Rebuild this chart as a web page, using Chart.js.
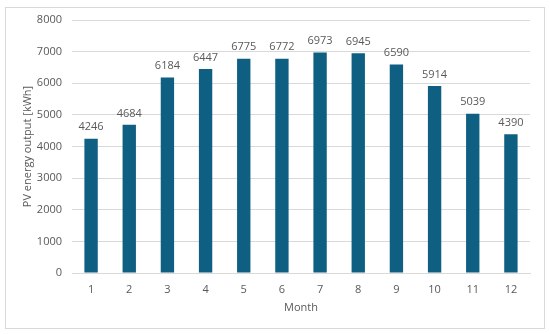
<!DOCTYPE html>
<html>
<head>
<meta charset="utf-8">
<script src="https://cdn.jsdelivr.net/npm/chart.js@4"></script>
<style>
body{margin:0;background:#fff}
#wrap{position:relative;width:550px;height:334px}
#frame{position:absolute;left:5px;top:7px;width:538px;height:320px;border:1px solid #d9d9d9}
canvas{position:absolute;left:0;top:0}
</style>
</head>
<body>
<div id="wrap">
<div id="frame"></div>
<canvas id="c" width="550" height="334"></canvas>
</div>
<script>
/* DATA */
const months=["1","2","3","4","5","6","7","8","9","10","11","12"]
const pvOutput=[4246,4684,6184,6447,6775,6772,6973,6945,6590,5914,5039,4390]
const yTicks=[0,1000,2000,3000,4000,5000,6000,7000,8000]

const txt="#595959"
const font="'Open Sans', Lato, sans-serif"

/* value labels above bars */
const valueLabels={
id:"valueLabels",
afterDatasetsDraw(chart){
let ctx=chart.ctx
ctx.save()
ctx.fillStyle=txt
ctx.font="11px "+font
ctx.textAlign="center"
ctx.textBaseline="bottom"
chart.getDatasetMeta(0).data.forEach((bar,i)=>{
ctx.fillText(chart.data.datasets[0].data[i],bar.x,bar.y-6)
})
ctx.restore()
}
}

new Chart(document.getElementById("c"),{
type:"bar",
data:{labels:months,datasets:[{data:pvOutput,backgroundColor:"#0f5f82",
barPercentage:0.35,categoryPercentage:1}]},
options:{
responsive:false,animation:false,
layout:{padding:{top:20,right:20,left:0,bottom:0}},
plugins:{legend:{display:false},tooltip:{enabled:false}},
scales:{
x:{
grid:{display:false},
border:{color:"#d9d9d9"},
ticks:{color:txt,font:{family:font,size:11},padding:2},
title:{display:true,text:"Month",color:txt,font:{family:font,size:11},padding:{top:0,bottom:20}},
afterFit(s){s.height=61}
},
y:{
min:0,max:8000,
afterBuildTicks(s){s.ticks=yTicks.map(v=>({value:v}))},
grid:{color:"#d9d9d9",drawTicks:false},
border:{display:false},
ticks:{color:txt,font:{family:font,size:11},padding:10,callback:v=>String(v)},
title:{display:true,text:"PV energy output [kWh]",color:txt,font:{family:font,size:11},padding:{top:21,bottom:0}},
afterFit(s){s.width=72}
}
}
},
plugins:[valueLabels]
})
</script>
</body>
</html>
